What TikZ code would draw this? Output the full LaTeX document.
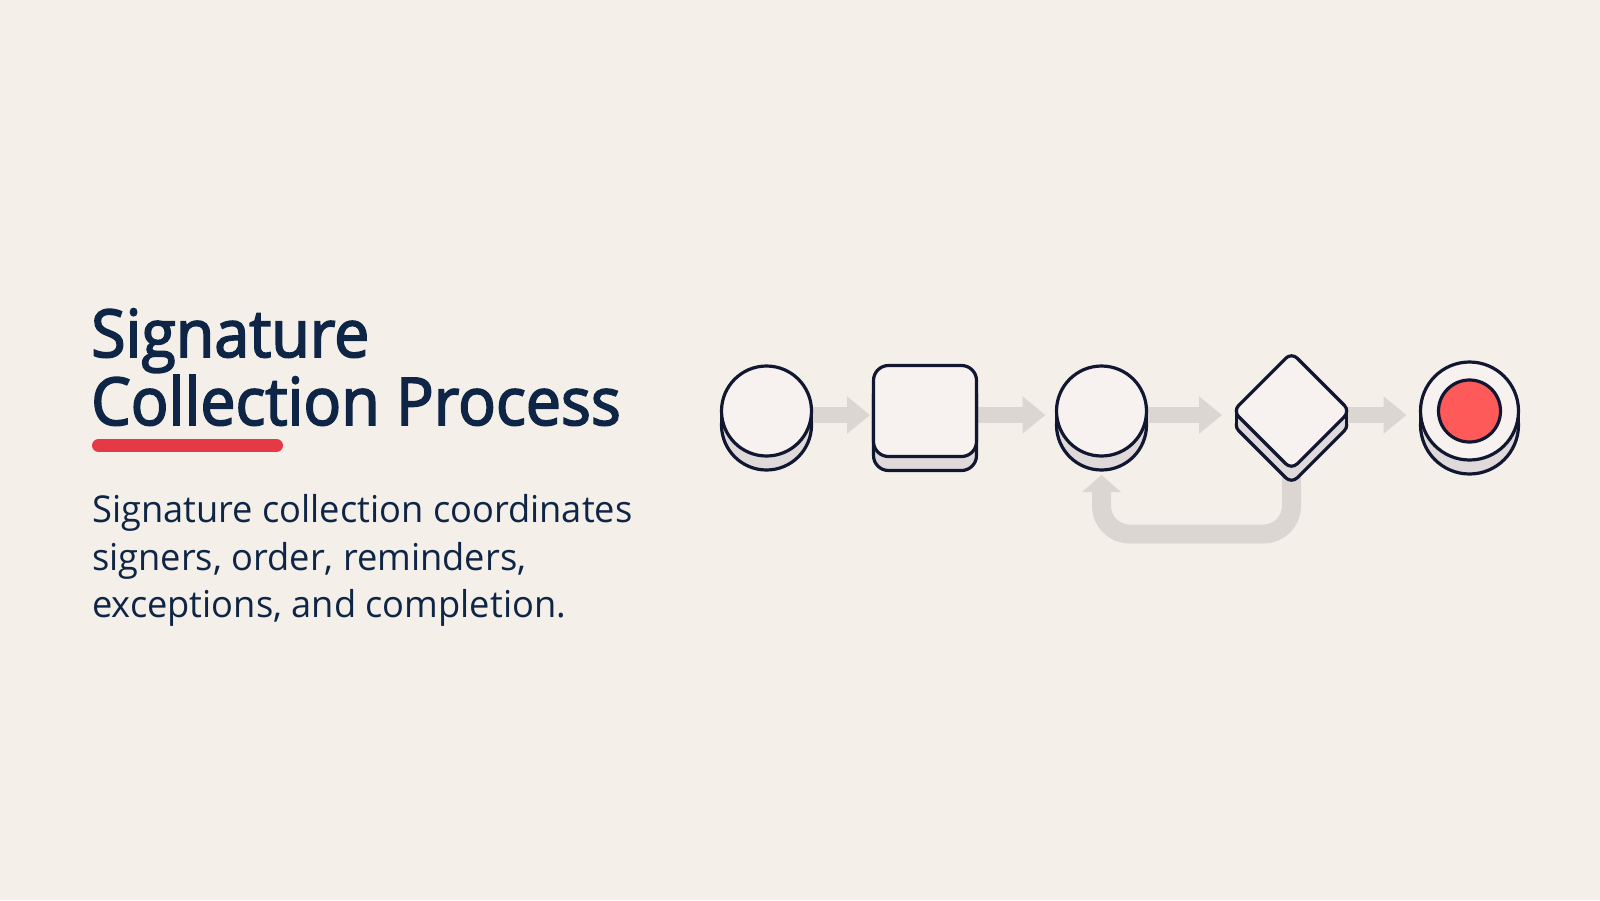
\documentclass[tikz,border=0pt]{standalone}
\usepackage{fontspec}
\setmainfont{Open Sans}
\newfontfamily\headfont[FakeStretch=0.95, FakeBold=2.6]{Open Sans}
\newfontfamily\blurbfont[FakeStretch=0.98]{Open Sans}
\usetikzlibrary{shapes.geometric, arrows.meta}

\definecolor{paper}{HTML}{F4F0E9}
\definecolor{navy}{HTML}{0E2545}
\definecolor{accent}{HTML}{E63946}
\definecolor{chip}{HTML}{F7F1EF}
\definecolor{chipshade}{HTML}{DFD9D9}
\definecolor{outline}{HTML}{111631}
\definecolor{track}{HTML}{DCD6D3}
\definecolor{coral}{HTML}{FF5A5A}

\pgfdeclarelayer{canvas}
\pgfdeclarelayer{back}
\pgfsetlayers{canvas,back,main}

\begin{document}
\begin{tikzpicture}[
        x=1pt, y=-1pt,
        % text styles
        headline/.style={font=\headfont\fontsize{66}{68}\selectfont, text=navy, anchor=base west, inner sep=0pt},
        blurb/.style={font=\blurbfont\fontsize{37}{48}\selectfont, text=navy, anchor=base west, inner sep=0pt},
        % shape styles
        face/.style={draw=outline, line width=3.2pt, fill=chip, outer sep=0pt, inner sep=0pt},
        base/.style={face, fill=chipshade},
        side/.style={draw=outline, line width=3.2pt},
        % connectors
        flow/.style={draw=track, line width=16pt, -{Triangle[width=36pt,length=23pt]}, shorten >=11pt},
        loopback/.style={draw=track, line width=19pt, rounded corners=28pt, -{Triangle[width=38pt,length=17pt]}, shorten >=5pt}
    ]

    % 1. Background
    \begin{pgfonlayer}{canvas}
        \fill[paper] (0,0) rectangle (1600,900);
    \end{pgfonlayer}
    \useasboundingbox (0,0) rectangle (1600,900);

    % 2. Title, underline and text
    \node[headline] (titletop) at (91,357) {Signature};
    \node[headline] (titlebottom) at (91,425) {Collection Process};
    \draw[accent, line width=13pt, line cap=round] (98.5,445.5) -- (276.5,445.5);
    \node[blurb] (blurbone) at (92,522) {Signature collection coordinates};
    \node[blurb] (blurbtwo) at (92,570) {signers, order, reminders,};
    \node[blurb] (blurbthree) at (92,617) {exceptions, and completion.};

    % 3. Start event
    \node[base, circle, minimum size=90pt] (startbase) at (766.5,425) {};
    \fill[chipshade] (startbase.west) rectangle ([yshift=14pt]startbase.east);
    \draw[side] (startbase.west) -- ++(0,-14) (startbase.east) -- ++(0,-14);
    \node[face, circle, minimum size=90pt] (start) at (766.5,411) {};

    % 4. Task
    \node[base, rounded corners=15pt, minimum width=103pt, minimum height=91pt] (taskbase) at (925,425) {};
    \node[face, rounded corners=15pt, minimum width=103pt, minimum height=91pt] (task) at (925,411) {};

    % 5. Intermediate event
    \node[base, circle, minimum size=90pt] (waitbase) at (1101.5,425) {};
    \fill[chipshade] (waitbase.west) rectangle ([yshift=14pt]waitbase.east);
    \draw[side] (waitbase.west) -- ++(0,-14) (waitbase.east) -- ++(0,-14);
    \node[face, circle, minimum size=90pt] (wait) at (1101.5,411) {};

    % 6. Gateway
    \node[base, diamond, rounded corners=8pt, minimum size=117pt] (gatebase) at (1291.5,425) {};
    \fill[chipshade] ([xshift=3.3pt]gatebase.west) rectangle ([xshift=-3.3pt, yshift=14pt]gatebase.east);
    \draw[side] ([xshift=3.3pt]gatebase.west) -- ++(0,-14) ([xshift=-3.3pt]gatebase.east) -- ++(0,-14);
    \node[face, diamond, rounded corners=8pt, minimum size=117pt] (gate) at (1291.5,411) {};

    % 7. End event
    \node[base, circle, minimum size=98pt] (finishbase) at (1469.5,425) {};
    \fill[chipshade] (finishbase.west) rectangle ([yshift=14pt]finishbase.east);
    \draw[side] (finishbase.west) -- ++(0,-14) (finishbase.east) -- ++(0,-14);
    \node[face, circle, minimum size=98pt] (finish) at (1469.5,411) {};
    \node[face, circle, fill=coral, minimum size=62pt] (finishdot) at (finish) {};

    % 8. Connectors (behind the shapes)
    \begin{pgfonlayer}{back}
        \draw[flow, shorten >=3.5pt] ([yshift=-4pt]start.center) -- ([yshift=-4pt]task.west);
        \draw[flow] ([yshift=-4pt]task.center) -- ([yshift=-4pt]wait.west);
        \draw[flow] ([yshift=-4pt]wait.center) -- ([yshift=-4pt]gate.west);
        \draw[flow, shorten >=14pt] ([yshift=-4pt]gate.center) -- ([yshift=-4pt]finish.west);
        \draw[loopback] (gatebase.center) -- (gatebase.center |- 0,534) -| (waitbase.south);
    \end{pgfonlayer}

\end{tikzpicture}
\end{document}
